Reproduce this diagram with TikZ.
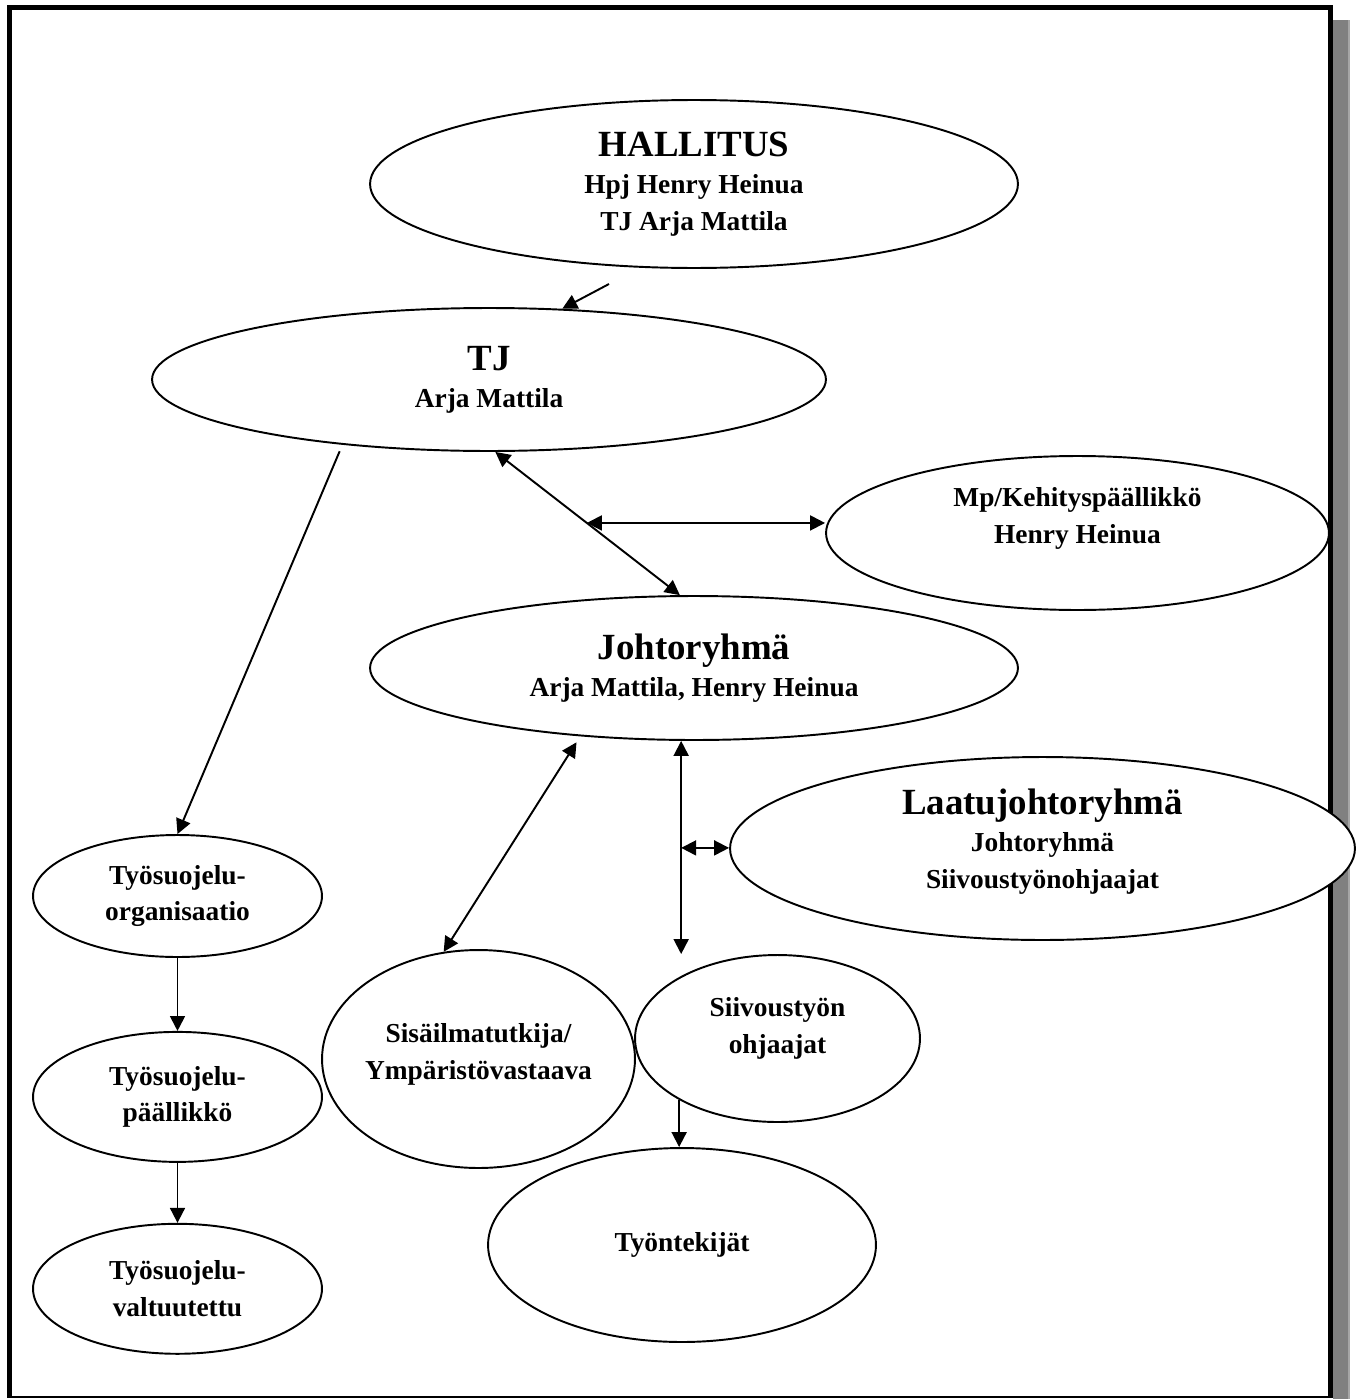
\documentclass[tikz,border=0pt]{standalone}
\usepackage{fontspec}
\setmainfont{Liberation Serif}
\usetikzlibrary{shapes.geometric,arrows.meta,positioning}

\newcommand\bigtxt{\fontsize{21}{24}\selectfont}
\newcommand\smtxt{\fontsize{15.6}{21}\selectfont}
\newcommand\lift[1]{\rule[-#1]{0pt}{#1}}

\tikzset{
  org/.style={draw, ellipse, fill=white, line width=1.1pt, inner sep=-3cm,
              align=center, font=\smtxt\bfseries},
  arr/.style={-{Triangle[length=8.5pt,width=8.5pt]}, line width=1.1pt},
  dbl/.style={{Triangle[length=8.5pt,width=8.5pt]}-{Triangle[length=8.5pt,width=8.5pt]}, line width=1.1pt},
}

\begin{document}
\begin{tikzpicture}[x=0.02cm, y=-0.02cm]
          \useasboundingbox (0,0) rectangle (1357,1399);

          % frame and shadow
          \fill[black!50] (1333,20) rectangle (1348,1399);
          \fill[black!35] (1348,20) rectangle (1350,1399);
          \fill (7,5) rectangle (1333,10);
          \fill (7,5) rectangle (12,1397);
          \fill (1328,5) rectangle (1333,1397);
          \fill (7,1395.5) rectangle (1333,1397.5);

          \node (hal)  [org, minimum width=12.96cm, minimum height=3.36cm] at (694,184)
                       {{\bigtxt HALLITUS}\\Hpj Henry Heinua\\TJ Arja Mattila};
          \node (tj)   [org, minimum width=13.48cm, minimum height=2.86cm] at (489,379.5)
                       {{\bigtxt TJ}\\Arja Mattila};
          \node (mp)   [org, minimum width=10.06cm, minimum height=3.08cm] at (1077.5,533)
                       {Mp/Kehityspäällikkö\\Henry Heinua\lift{20pt}};
          \node (jr)   [org, minimum width=12.96cm, minimum height=2.88cm] at (694,668)
                       {{\bigtxt Johtoryhmä}\\Arja Mattila, Henry Heinua};
          \node (lj)   [org, minimum width=12.5cm, minimum height=3.66cm] at (1042.5,848.5)
                       {{\bigtxt Laatujohtoryhmä}\\Johtoryhmä\\Siivoustyönohjaajat\lift{11pt}};
          \node (tso)  [org, minimum width=5.78cm, minimum height=2.44cm] at (177.5,896)
                       {Työsuojelu-\\organisaatio};
          \node (tsp)  [org, minimum width=5.78cm, minimum height=2.6cm, below=1.46cm of tso]
                       {Työsuojelu-\\päällikkö};
          \node (tsv)  [org, minimum width=5.78cm, minimum height=2.6cm, below=1.2cm of tsp]
                       {Työsuojelu-\\valtuutettu};
          \node (sis)  [org, minimum width=6.26cm, minimum height=4.36cm] at (478.5,1059)
                       {Sisäilmatutkija/\\Ympäristövastaava\lift{9pt}};
          \node (siiv) [org, minimum width=5.7cm, minimum height=3.34cm] at (777.5,1038.5)
                       {Siivoustyön\\ohjaajat\lift{14.5pt}};
          \node (tt)   [org, minimum width=7.76cm, minimum height=3.88cm] at (682,1245)
                       {Työntekijät};

          \coordinate (h1) at (609,284);

          \draw [arr] (h1) to (tj.44);
          \draw [arr, shorten <=4pt] (tj.204) to (tso.north);
          \draw [dbl] (tj.-85) -- coordinate[pos=0.496] (m1) (jr.101);
          \draw [dbl] (m1) to (m1 -| mp.west);
          \draw [dbl, shorten <=4pt] (jr.211) to (sis.108);
          \draw [dbl] (jr.260) -- coordinate[pos=0.502] (m2) (jr.260 |- siiv.north);
          \draw [dbl] (m2) to (m2 -| lj.west);
          \draw [arr] (siiv.212) to (siiv.212 |- tt.north);
          \draw [arr] (tso) to (tsp);
          \draw [arr] (tsp) to (tsv);
        \end{tikzpicture}
\end{document}
